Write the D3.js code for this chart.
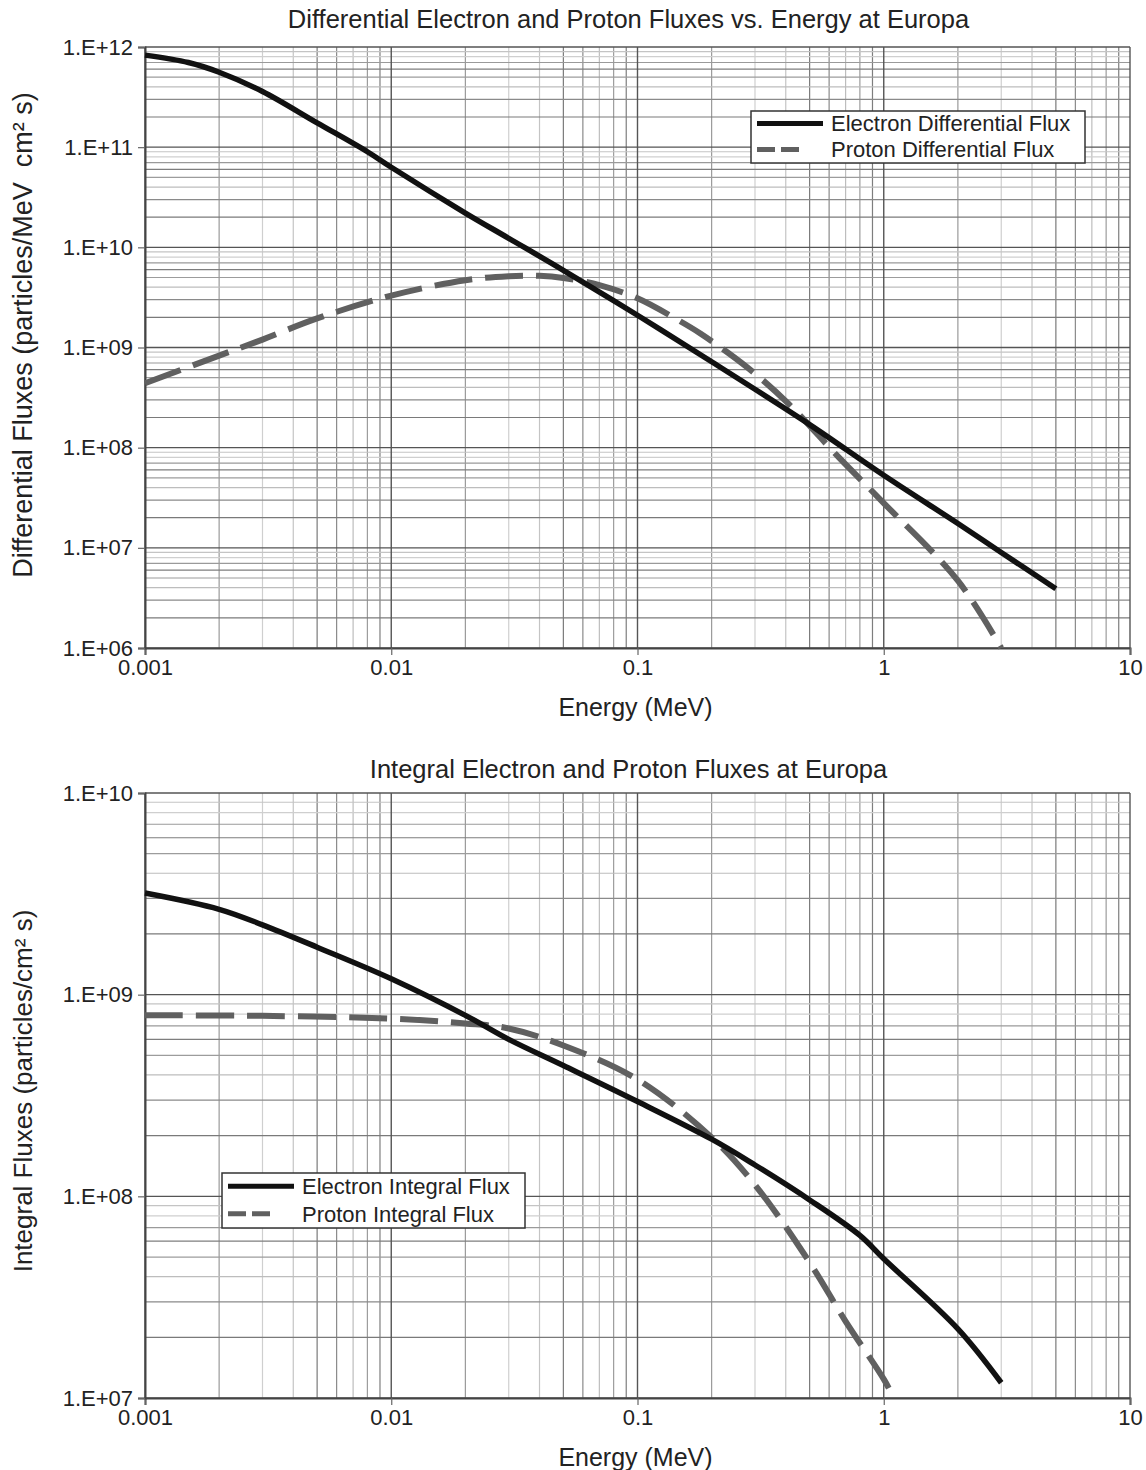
<!DOCTYPE html>
<html>
<head>
<meta charset="utf-8">
<script src="https://cdn.jsdelivr.net/npm/d3@7"></script>
<style>
  body { margin: 0; background: #fff; }
  text { font-family: "Liberation Sans", Arial, sans-serif; fill: #222; }
</style>
</head>
<body>
<div id="visualization"></div>
<script>
// energy grid (MeV) and fluxes
var diffElectronE    = [0.001, 0.0015, 0.002, 0.003, 0.005, 0.008, 0.01, 0.02, 0.03, 0.05, 0.1, 0.2, 0.5, 1, 2, 3, 5];
var diffElectronFlux = [8.3e11, 7.0e11, 5.6e11, 3.6e11, 1.75e11, 9.0e10, 6.3e10, 2.2e10, 1.23e10, 5.9e9, 2.1e9, 7.2e8, 1.7e8, 5.3e7, 1.75e7, 9.0e6, 3.9e6];

var diffProtonE    = [0.001, 0.002, 0.003, 0.005, 0.01, 0.02, 0.03, 0.04, 0.05, 0.07, 0.1, 0.145, 0.18, 0.28, 0.41, 0.66, 1, 2, 3];
var diffProtonFlux = [4.4e8, 8.3e8, 1.2e9, 1.95e9, 3.3e9, 4.7e9, 5.15e9, 5.2e9, 4.95e9, 4.2e9, 3.1e9, 1.9e9, 1.38e9, 6.3e8, 2.75e8, 7.9e7, 2.8e7, 4.7e6, 1.0e6];

var intElectronE    = [0.001, 0.002, 0.003, 0.005, 0.01, 0.02, 0.03, 0.05, 0.1, 0.2, 0.3, 0.5, 0.8, 1, 2, 3];
var intElectronFlux = [3.19e9, 2.65e9, 2.22e9, 1.72e9, 1.2e9, 7.9e8, 6.0e8, 4.45e8, 2.95e8, 1.92e8, 1.43e8, 9.6e7, 6.4e7, 4.9e7, 2.2e7, 1.19e7];

var intProtonE    = [0.001, 0.003, 0.01, 0.02, 0.03, 0.05, 0.1, 0.2, 0.3, 0.5, 0.7, 1, 1.1];
var intProtonFlux = [7.9e8, 7.85e8, 7.6e8, 7.2e8, 6.8e8, 5.6e8, 3.8e8, 1.96e8, 1.14e8, 4.7e7, 2.4e7, 1.24e7, 1.0e7];

var xTickLabels = ["0.001", "0.01", "0.1", "1", "10"];

var topYTickLabels    = ["1.E+06", "1.E+07", "1.E+08", "1.E+09", "1.E+10", "1.E+11", "1.E+12"];
var bottomYTickLabels = ["1.E+07", "1.E+08", "1.E+09", "1.E+10"];

// grid shade per minor multiplier (the scanned original has uneven greys)
var gridMult  = [2, 3, 4, 5, 6, 7, 8, 9];
var gridShade = ["#9a9a9a", "#cfcfcf", "#c4c4c4", "#7a7a7a", "#8a8a8a", "#bdbdbd", "#9c9c9c", "#7e7e7e"];

function build_series(e, f){
    var out = [];
    for (var i = 0; i < e.length; i ++){
        out.push({"e": e[i], "f": f[i]});
    }
    return out;
}

var svg = d3.select("#visualization").append("svg")
    .attr("width", 1146)
    .attr("height", 1470);

svg.append("rect").attr("width", 1146).attr("height", 1470).attr("fill", "#fff");

function draw_chart(cfg){
    var x = d3.scaleLog().domain([0.001, 10]).range([cfg.left, cfg.right]);
    var y = d3.scaleLog().domain(cfg.yDomain).range([cfg.bottom, cfg.top]);

    var g = svg.append("g");

    // grid
    var grid = g.append("g");
    var xd0 = Math.round(Math.log10(x.domain()[0])), xd1 = Math.round(Math.log10(x.domain()[1]));
    for (var d = xd0; d < xd1; d ++){
        for (var k = 0; k < gridMult.length; k ++){
            var xv = gridMult[k] * Math.pow(10, d);
            grid.append("line")
                .attr("x1", x(xv)).attr("x2", x(xv))
                .attr("y1", cfg.top).attr("y2", cfg.bottom)
                .attr("stroke", gridShade[k]).attr("stroke-width", 1.2);
        }
    }
    var yd0 = Math.round(Math.log10(y.domain()[0])), yd1 = Math.round(Math.log10(y.domain()[1]));
    for (var d = yd0; d < yd1; d ++){
        for (var k = 0; k < gridMult.length; k ++){
            var yv = gridMult[k] * Math.pow(10, d);
            grid.append("line")
                .attr("x1", cfg.left).attr("x2", cfg.right)
                .attr("y1", y(yv)).attr("y2", y(yv))
                .attr("stroke", gridShade[(k + 3) % gridShade.length]).attr("stroke-width", 1.2);
        }
    }
    // major grid
    for (var d = xd0; d <= xd1; d ++){
        grid.append("line")
            .attr("x1", x(Math.pow(10, d))).attr("x2", x(Math.pow(10, d)))
            .attr("y1", cfg.top).attr("y2", cfg.bottom)
            .attr("stroke", "#555").attr("stroke-width", 1.4);
    }
    for (var d = yd0; d <= yd1; d ++){
        grid.append("line")
            .attr("x1", cfg.left).attr("x2", cfg.right)
            .attr("y1", y(Math.pow(10, d))).attr("y2", y(Math.pow(10, d)))
            .attr("stroke", "#555").attr("stroke-width", 1.4);
    }

    // axes
    var xTicks = xTickLabels.map(function(t){ return +t; });
    var xAxis = g.append("g")
        .attr("transform", "translate(0," + cfg.bottom + ")")
        .call(d3.axisBottom(x).tickValues(xTicks).tickSize(7).tickPadding(4)
            .tickFormat(function(d, i){ return xTickLabels[i]; }));
    var yTicks = cfg.yTickLabels.map(function(t){ return +t.replace(".E", "e"); });
    var yAxis = g.append("g")
        .attr("transform", "translate(" + cfg.left + ",0)")
        .call(d3.axisLeft(y).tickValues(yTicks).tickSize(7).tickPadding(5)
            .tickFormat(function(d, i){ return cfg.yTickLabels[i]; }));
    [xAxis, yAxis].forEach(function(a){
        a.select(".domain").attr("stroke", "#444").attr("stroke-width", 2);
        a.selectAll(".tick line").attr("stroke", "#666").attr("stroke-width", 1.2);
        a.selectAll(".tick text")
            .style("font-family", "'Liberation Sans', Arial, sans-serif")
            .style("font-size", "22px").attr("fill", "#222");
    });

    // curves
    var line = d3.line()
        .x(function(d){ return x(d.e); })
        .y(function(d){ return y(d.f); })
        .curve(d3.curveCatmullRom.alpha(0.5));
    var plot = g.append("g");
    plot.append("path")
        .datum(build_series(cfg.protonE, cfg.protonF))
        .attr("d", line)
        .attr("fill", "none").attr("stroke", "#606060")
        .attr("stroke-width", 6).attr("stroke-dasharray", "38,13");
    plot.append("path")
        .datum(build_series(cfg.electronE, cfg.electronF))
        .attr("d", line)
        .attr("fill", "none").attr("stroke", "#111")
        .attr("stroke-width", 5.5).attr("stroke-linejoin", "round");

    // titles
    g.append("text")
        .attr("x", (cfg.left + cfg.right) / 2 - 9).attr("y", cfg.titleY)
        .attr("text-anchor", "middle").style("font-size", "25.5px")
        .text(cfg.title);
    g.append("text")
        .attr("x", (cfg.left + cfg.right) / 2 - 2).attr("y", cfg.bottom + 68)
        .attr("text-anchor", "middle").style("font-size", "25px")
        .text("Energy (MeV)");
    g.append("text")
        .attr("transform", "translate(32," + cfg.yTitleMid + ") rotate(-90)")
        .attr("text-anchor", "middle").style("font-size", cfg.yTitleSize)
        .style("white-space", "pre")
        .text(cfg.yTitle);

    // legend
    var lg = g.append("g").attr("transform", "translate(" + cfg.legend[0] + "," + cfg.legend[1] + ")");
    lg.append("rect")
        .attr("width", cfg.legendW).attr("height", cfg.legendH)
        .attr("fill", "#fff").attr("stroke", "#333").attr("stroke-width", 1.5);
    var r1 = cfg.legendH * 0.24, r2 = cfg.legendH * 0.74;
    lg.append("line").attr("x1", 6).attr("x2", 72).attr("y1", r1).attr("y2", r1)
        .attr("stroke", "#111").attr("stroke-width", 5);
    lg.append("line").attr("x1", 6).attr("x2", 50).attr("y1", r2).attr("y2", r2)
        .attr("stroke", "#606060").attr("stroke-width", 5).attr("stroke-dasharray", "18,6");
    lg.append("text").attr("x", 80).attr("y", r1 + 8).style("font-size", "22px").text(cfg.legendText[0]);
    lg.append("text").attr("x", 80).attr("y", r2 + 8).style("font-size", "22px").text(cfg.legendText[1]);
}

draw_chart({
    left: 145, right: 1130, top: 47, bottom: 648,
    yDomain: [1e6, 1e12], yTickLabels: topYTickLabels,
    electronE: diffElectronE, electronF: diffElectronFlux,
    protonE: diffProtonE, protonF: diffProtonFlux,
    title: "Differential Electron and Proton Fluxes vs. Energy at Europa", titleY: 28,
    yTitle: "Differential Fluxes (particles/MeV  cm\u00B2 s)", yTitleMid: 335, yTitleSize: "27px",
    legend: [751, 111], legendW: 334, legendH: 52,
    legendText: ["Electron Differential Flux", "Proton Differential Flux"]
});

draw_chart({
    left: 145, right: 1130, top: 793, bottom: 1398,
    yDomain: [1e7, 1e10], yTickLabels: bottomYTickLabels,
    electronE: intElectronE, electronF: intElectronFlux,
    protonE: intProtonE, protonF: intProtonFlux,
    title: "Integral Electron and Proton Fluxes at Europa", titleY: 778,
    yTitle: "Integral Fluxes (particles/cm\u00B2 s)", yTitleMid: 1091, yTitleSize: "26px",
    legend: [222, 1173], legendW: 303, legendH: 55,
    legendText: ["Electron Integral Flux", "Proton Integral Flux"]
});
</script>
</body>
</html>
